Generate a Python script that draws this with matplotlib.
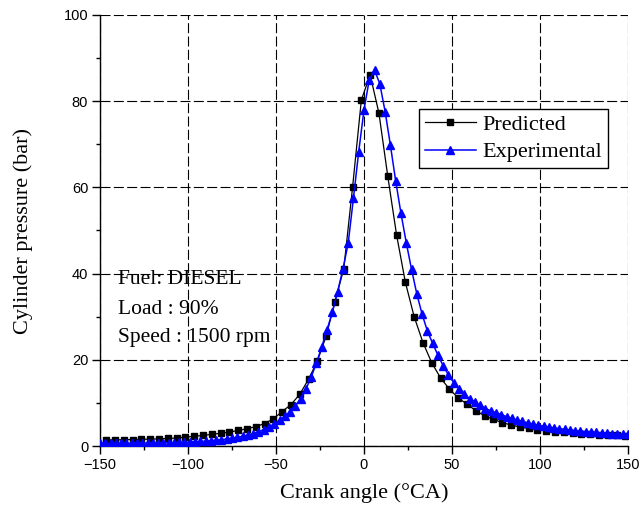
import matplotlib
matplotlib.use("Agg")
import matplotlib.pyplot as plt
from matplotlib.ticker import MultipleLocator

# predicted (simulation) points, every 5 degCA
pred_angle = [
    -146.5, -141.5, -136.5, -131.5, -126.5, -121.5, -116.5, -111.5, -106.5, -101.5,
    -96.5, -91.5, -86.5, -81.5, -76.5, -71.5, -66.5, -61.5, -56.5, -51.5,
    -46.5, -41.5, -36.5, -31.5, -26.5, -21.5, -16.5, -11.5, -6.5, -1.5,
    3.5, 8.5, 13.5, 18.5, 23.5, 28.5, 33.5, 38.5, 43.5, 48.5,
    53.5, 58.5, 63.5, 68.5, 73.5, 78.5, 83.5, 88.5, 93.5, 98.5,
    103.5, 108.5, 113.5, 118.5, 123.5, 128.5, 133.5, 138.5, 143.5, 148.5,
]
pred_pressure = [
    1.4, 1.4, 1.45, 1.5, 1.55, 1.6, 1.65, 1.75, 1.85, 2.05,
    2.25, 2.45, 2.7, 2.95, 3.25, 3.6, 4.0, 4.5, 5.2, 6.3,
    8.0, 9.6, 12.0, 15.5, 19.7, 25.5, 33.5, 41.1, 60.0, 80.3,
    86.1, 77.2, 62.6, 49.0, 38.0, 30.0, 24.0, 19.3, 15.8, 13.2,
    11.2, 9.7, 8.2, 7.0, 6.2, 5.4, 4.9, 4.4, 4.1, 3.8,
    3.55, 3.35, 3.15, 3.0, 2.85, 2.7, 2.6, 2.5, 2.45, 2.4,
]

# experimental points, every 3 degCA
exp_angle = [
    -150, -147, -144, -141, -138, -135, -132, -129, -126, -123,
    -120, -117, -114, -111, -108, -105, -102, -99, -96, -93,
    -90, -87, -84, -81, -78, -75, -72, -69, -66, -63,
    -60, -57, -54, -51, -48, -45, -42, -39, -36, -33,
    -30, -27, -24, -21, -18, -15, -12, -9, -6, -3,
    0, 3, 6, 9, 12, 15, 18, 21, 24, 27,
    30, 33, 36, 39, 42, 45, 48, 51, 54, 57,
    60, 63, 66, 69, 72, 75, 78, 81, 84, 87,
    90, 93, 96, 99, 102, 105, 108, 111, 114, 117,
    120, 123, 126, 129, 132, 135, 138, 141, 144, 147,
    150,
]
exp_pressure = [
    0.6, 0.6, 0.6, 0.6, 0.6, 0.62, 0.63, 0.65, 0.67, 0.69,
    0.71, 0.73, 0.75, 0.78, 0.8, 0.83, 0.87, 0.92, 0.98, 1.05,
    1.13, 1.22, 1.33, 1.46, 1.62, 1.8, 2.0, 2.25, 2.55, 2.9,
    3.3, 3.8, 4.4, 5.1, 6.0, 6.9, 8.0, 9.3, 11.0, 13.2,
    16.0, 19.3, 23.0, 27.0, 31.0, 35.8, 41.0, 47.0, 57.5, 68.3,
    78.0, 85.0, 87.2, 84.0, 77.6, 69.8, 61.5, 54.0, 47.2, 41.0,
    35.3, 30.6, 26.7, 23.8, 21.1, 18.6, 16.5, 14.7, 13.2, 12.0,
    11.0, 10.2, 9.4, 8.7, 8.2, 7.7, 7.3, 6.8, 6.4, 6.0,
    5.7, 5.4, 5.1, 4.85, 4.6, 4.4, 4.2, 4.0, 3.85, 3.7,
    3.55, 3.45, 3.35, 3.25, 3.15, 3.05, 2.95, 2.9, 2.8, 2.75,
    2.7,
]

info_lines = ["Fuel: DIESEL", "Load : 90%", "Speed : 1500 rpm"]
info_y = [38.7, 31.6, 25.1]

serif = "Liberation Serif"
sans = "Liberation Sans"

fig = plt.figure(figsize=(6.41, 5.14), dpi=100)
ax = fig.add_axes([100 / 641, 1 - 446 / 514, 528 / 641, 431 / 514])

ax.plot(pred_angle, pred_pressure, color="black", lw=0.9, marker="s",
        markersize=5, label="Predicted", zorder=3)
ax.plot(exp_angle, exp_pressure, color="#0000ff", lw=1.1, marker="^",
        markersize=5.5, label="Experimental", zorder=4)

ax.set_xlim(-150, 150)
ax.set_ylim(0, 100)
ax.xaxis.set_major_locator(MultipleLocator(50))
ax.xaxis.set_minor_locator(MultipleLocator(25))
ax.yaxis.set_major_locator(MultipleLocator(20))
ax.yaxis.set_minor_locator(MultipleLocator(10))

ax.spines["top"].set_visible(False)
ax.spines["right"].set_visible(False)
for s in ("left", "bottom"):
    ax.spines[s].set_linewidth(1.0)

ax.tick_params(which="major", direction="out", length=5.5, width=1.0, pad=3)
ax.tick_params(which="minor", direction="out", length=3, width=1.0)
for lab in ax.get_xticklabels() + ax.get_yticklabels():
    lab.set_fontfamily(sans)
    lab.set_fontsize(10.5)

ax.grid(True, which="major", color="black", lw=0.8, linestyle=(0, (9, 3)))
ax.set_axisbelow(True)

ax.set_xlabel("Crank angle (°CA)", fontfamily=serif, fontsize=16, va="center")
ax.set_ylabel("Cylinder pressure (bar)", fontfamily=serif, fontsize=16, va="center")
ax.xaxis.set_label_coords(0.5, -(493 - 446) / 431)
ax.yaxis.set_label_coords(-(100 - 23) / 528, 0.5)

for txt, yv in zip(info_lines, info_y):
    ax.text(-139.8, yv, txt, fontfamily=serif, fontsize=15.5, va="center", ha="left")

leg = ax.legend(loc="upper left", bbox_to_anchor=((419 - 100) / 528, (446 - 109) / 431),
                prop={"family": serif, "size": 16}, frameon=True, fancybox=False,
                edgecolor="black", borderpad=0.25, borderaxespad=0, handlelength=2.3,
                handletextpad=0.3, labelspacing=0.3, framealpha=1)
leg.get_frame().set_linewidth(1.0)

fig.savefig("out.png", dpi=100)
